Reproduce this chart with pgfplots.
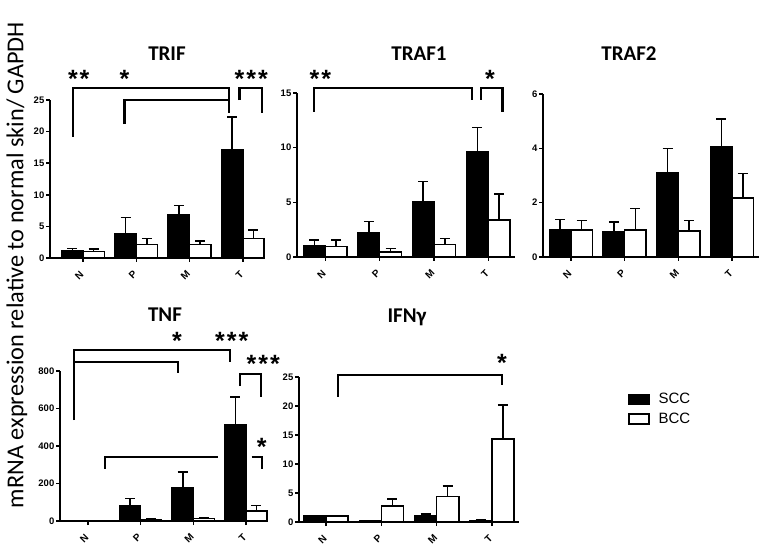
\documentclass[border=0pt]{standalone}
\usepackage{pgfplots}
\pgfplotsset{compat=1.18}
\usepackage{fontspec}
\setmainfont{Carlito}
\newfontfamily\arialfont{Liberation Sans}

\pgfplotsset{
 panel/.style={
   scale only axis, clip=false,
   axis x line*=bottom, axis y line*=left,
   axis line style={line width=1.6pt},
   ymin=0, enlargelimits=false,
   xtick={0,1,2,3}, xticklabels={N,P,M,T},
   x tick label style={rotate=45, anchor=north east, xshift=-6pt, yshift=-1pt, font=\arialfont\bfseries\fontsize{10}{10}\selectfont, inner sep=2pt},
   y tick label style={font=\arialfont\bfseries\fontsize{9.5}{9.5}\selectfont, inner sep=1.5pt},
   /pgf/number format/assume math mode=true,
   tick align=outside, major tick length=4pt,
   every tick/.style={black, line width=1.5pt},
   ybar=0pt, bar width=0.4,
 },
 eb/.style={error bars/y dir=plus, error bars/y explicit,
   error bars/error bar style={line width=1.6pt, black},
   error bars/error mark options={rotate=90, mark size=5pt, line width=1.6pt, black}},
 scc/.style={fill=black, draw=black, line width=1.5pt, bar shift=-0.2, eb},
 bcc/.style={fill=white, draw=black, line width=1.5pt, bar shift=0.2, eb},
}
\tikzset{
 br/.style={line width=2.2pt, black},
 st/.style={font=\arialfont\bfseries\fontsize{25}{25}\selectfont, anchor=north, inner sep=0pt},
 ttl/.style={font=\bfseries\fontsize{21}{21}\selectfont},
}
\newcommand{\stsp}{\hspace{2pt}}

\begin{document}
\begin{tikzpicture}
\path[use as bounding box] (0pt,0pt) rectangle (764pt,547pt);

% y label
\node[rotate=90, font=\fontsize{24.3}{24.3}\selectfont] at (17pt,282pt) {mRNA expression relative to normal skin/ GAPDH};

% titles
\node[ttl] at (167pt,493pt) {TRIF};
\node[ttl] at (419pt,493pt) {TRAF1};
\node[ttl] at (629pt,493pt) {TRAF2};
\node[ttl] at (165pt,232pt) {TNF};
\node[ttl] at (407pt,230pt) {IFNγ};

% TRIF
\begin{axis}[panel, at={(50pt,289pt)}, anchor=south west, width=213pt, height=158pt,
  xmin=-0.62, xmax=3.38, ymax=25, ytick={0,5,10,15,20,25}]
\addplot[scc] coordinates {(0,1.1) +- (0,0.4) (1,3.9) +- (0,2.5) (2,6.8) +- (0,1.5) (3,17.1) +- (0,5.2)};
\addplot[bcc] coordinates {(0,1.0) +- (0,0.4) (1,2.1) +- (0,1.0) (2,2.1) +- (0,0.6) (3,3.1) +- (0,1.3)};
\draw[br] (axis cs:-0.19,19.2) |- (axis cs:2.74,26.85) -- (axis cs:2.74,22.9);
\draw[br] (axis cs:0.78,21.2) |- (axis cs:2.74,25);
\draw[br] (axis cs:2.94,25) |- (axis cs:3.36,26.85) -- (axis cs:3.36,22.9);
\node[st] at (axis cs:-0.08,29.7) {*\stsp*};
\node[st] at (axis cs:0.78,29.7) {*};
\node[st] at (axis cs:3.16,29.7) {*\stsp*\stsp*};
\end{axis}

% TRAF1
\begin{axis}[panel, at={(297pt,290pt)}, anchor=south west, width=218pt, height=164pt,
  xmin=-0.52, xmax=3.49, ymax=15, ytick={0,5,10,15}]
\addplot[scc] coordinates {(0,1.0) +- (0,0.55) (1,2.23) +- (0,1.0) (2,5.05) +- (0,1.85) (3,9.64) +- (0,2.2)};
\addplot[bcc] coordinates {(0,0.98) +- (0,0.55) (1,0.46) +- (0,0.3) (2,1.13) +- (0,0.55) (3,3.37) +- (0,2.4)};
\draw[br] (axis cs:-0.2,13.3) |- (axis cs:2.7,15.46) -- (axis cs:2.7,14.4);
\draw[br] (axis cs:2.87,14.4) |- (axis cs:3.26,15.46) -- (axis cs:3.26,13.3);
\node[st] at (axis cs:-0.09,17.1) {*\stsp*};
\node[st] at (axis cs:3.03,17.1) {*};
\end{axis}

% TRAF2
\begin{axis}[panel, at={(543pt,290pt)}, anchor=south west, width=216pt, height=163pt,
  xmin=-0.52, xmax=3.5, ymax=6, ytick={0,2,4,6}]
\addplot[scc] coordinates {(0,0.99) +- (0,0.39) (1,0.92) +- (0,0.37) (2,3.1) +- (0,0.9) (3,4.06) +- (0,1.03)};
\addplot[bcc] coordinates {(0,0.99) +- (0,0.36) (1,0.99) +- (0,0.8) (2,0.95) +- (0,0.4) (3,2.18) +- (0,0.9)};
\end{axis}

% TNF
\begin{axis}[panel, at={(60pt,26pt)}, anchor=south west, width=207pt, height=150pt,
  xmin=-0.53, xmax=3.4, ymax=800, ytick={0,200,400,600,800}]
\addplot[scc] coordinates {(0,1) +- (0,0) (1,82) +- (0,37) (2,175) +- (0,85) (3,515) +- (0,145)};
\addplot[bcc] coordinates {(0,1) +- (0,0) (1,9) +- (0,2) (2,14) +- (0,2) (3,53) +- (0,29)};
\draw[br] (axis cs:-0.27,538) |- (axis cs:2.69,912) -- (axis cs:2.69,850);
\draw[br] (axis cs:-0.27,850) -- (axis cs:1.71,850) -- (axis cs:1.71,788);
\draw[br] (axis cs:2.88,720) |- (axis cs:3.28,782) -- (axis cs:3.28,663);
\draw[br] (axis cs:0.32,280) |- (axis cs:2.47,342);
\draw[br] (axis cs:3.11,342) -| (axis cs:3.30,280);
\node[st] at (axis cs:1.69,1008) {*};
\node[st] at (axis cs:2.73,1008) {*\stsp*\stsp*};
\node[st] at (axis cs:3.33,885) {*\stsp*\stsp*};
\node[st] at (axis cs:3.3,443) {*};
\end{axis}

% IFNg
\begin{axis}[panel, at={(299pt,25pt)}, anchor=south west, width=220pt, height=145pt,
  xmin=-0.49, xmax=3.49, ymax=25, ytick={0,5,10,15,20,25},
  legend style={at={(1.495,0.903)}, anchor=north west, draw=none, fill=none, inner sep=0pt,
    row sep=4pt, font=\arialfont\fontsize{15}{15}\selectfont, legend cell align=left}]
\addplot[scc, forget plot] coordinates {(0,1.0) +- (0,0) (1,0.15) +- (0,0.05) (2,1.0) +- (0,0.35) (3,0.3) +- (0,0.15)};
\addplot[bcc, forget plot] coordinates {(0,1.0) +- (0,0) (1,2.8) +- (0,1.2) (2,4.4) +- (0,1.8) (3,14.3) +- (0,5.9)};
\draw[br] (axis cs:0.22,21.6) |- (axis cs:3.18,25.3) -- (axis cs:3.18,23.6);
\node[st] at (axis cs:3.18,29.0) {*};
\addlegendimage{legend image code/.code={\draw[fill=black, line width=1.5pt] (0pt,-5pt) rectangle (20pt,5pt);}}
\addlegendentry{\hspace{7pt}SCC}
\addlegendimage{legend image code/.code={\draw[fill=white, line width=1.5pt] (0pt,-5pt) rectangle (20pt,5pt);}}
\addlegendentry{\hspace{7pt}BCC}
\end{axis}
\end{tikzpicture}
\end{document}
